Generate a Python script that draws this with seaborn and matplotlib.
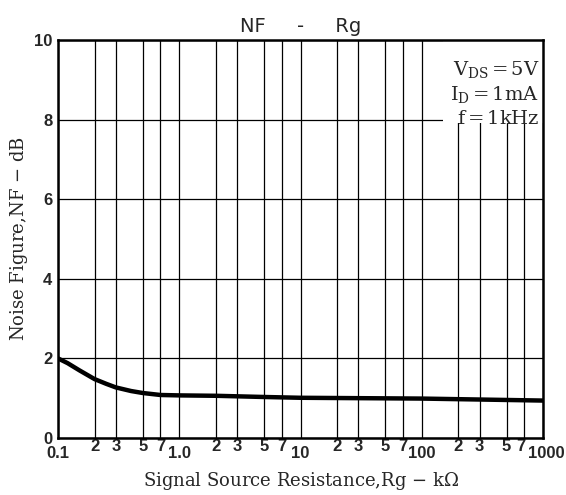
import matplotlib
matplotlib.use('Agg')
import matplotlib.pyplot as plt
import matplotlib.transforms as mtransforms
import seaborn as sns
import pandas as pd
from matplotlib.patches import Rectangle
from matplotlib.font_manager import FontProperties
from matplotlib.ticker import FixedLocator, FixedFormatter

# --- data ---
rg_kohm = [0.1, 0.12, 0.15, 0.2, 0.25, 0.3, 0.4, 0.5, 0.7, 1.0, 2.0, 5.0, 10.0, 100.0, 1000.0]
nf_db = [2.0, 1.88, 1.70, 1.48, 1.36, 1.27, 1.18, 1.13, 1.08, 1.07, 1.06, 1.03, 1.01, 0.99, 0.94]

major_x = [0.1, 1.0, 10.0, 100.0, 1000.0]
major_x_labels = ['0.1', '1.0', '10', '100', '1000']
minor_mults = [2, 3, 5, 7]
y_ticks = [0, 2, 4, 6, 8, 10]

conditions = [r'V$_{\rm DS}$$\,$=$\,$5V', r'I$_{\rm D}$$\,$=$\,$1mA', r'f$\,$=$\,$1kHz']

df = pd.DataFrame({'rg': rg_kohm, 'nf': nf_db})

sns.set_style("white")
plt.rcParams['mathtext.fontset'] = 'dejavuserif'
plt.rcParams['font.family'] = ['DejaVu Sans']

fig = plt.figure(figsize=(5.66, 4.95), dpi=100)
ax = fig.add_axes([0.1025, 0.1152, 0.857, 0.804])

sns.lineplot(data=df, x='rg', y='nf', color='black', linewidth=3.2, ax=ax, zorder=3)

ax.set_xscale('log')
ax.set_xlim(0.1, 1000)
ax.set_ylim(0, 10)

# ticks: major decades and 2,3,5,7 in between
minor_x = [d * m for d in major_x[:-1] for m in minor_mults]
ax.xaxis.set_major_locator(FixedLocator(major_x))
ax.xaxis.set_major_formatter(FixedFormatter(major_x_labels))
ax.xaxis.set_minor_locator(FixedLocator(minor_x))
ax.xaxis.set_minor_formatter(FixedFormatter([str(m) for d in major_x[:-1] for m in minor_mults]))
ax.set_yticks(y_ticks)
ax.set_yticklabels([str(v) for v in y_ticks])

tick_fp = FontProperties(family='Liberation Sans', weight='bold', size=12)
for lab in ax.get_xticklabels(which='both') + ax.get_yticklabels():
    lab.set_fontproperties(tick_fp)
ax.tick_params(axis='x', which='major', length=0, pad=6)
ax.tick_params(axis='x', which='minor', length=0, pad=1)
ax.tick_params(axis='y', length=0, pad=4)


def nudge(lab, dx_px):
    lab.set_transform(lab.get_transform() +
                      mtransforms.ScaledTranslation(dx_px / fig.dpi, 0, fig.dpi_scale_trans))


# "1000" sits a bit to the right and the last "7" a bit left, as in the original
nudge(ax.get_xticklabels()[-1], 3)
nudge(ax.get_xticklabels(minor=True)[-1], -3)

ax.grid(True, which='both', axis='x', color='black', linewidth=0.9)
ax.grid(True, which='major', axis='y', color='black', linewidth=0.9)
ax.set_axisbelow(True)

for sp in ax.spines.values():
    sp.set_color('black')
    sp.set_linewidth(1.8)

# white box for the test conditions
ax.add_patch(Rectangle((150, 7.92), 1000 - 150, 10 - 7.92, facecolor='white',
                       edgecolor='none', zorder=1.5))
for i, txt in enumerate(conditions):
    ax.text(0.992, 0.925 - i * 0.062, txt, transform=ax.transAxes, ha='right', va='center',
            fontsize=14, family='DejaVu Serif', zorder=4)

ax.set_xlabel('Signal Source Resistance,Rg $-$ k$\\Omega$', family='DejaVu Serif',
              fontsize=13, labelpad=6)
ax.set_ylabel('Noise Figure,NF $-$ dB', family='DejaVu Serif', fontsize=13, labelpad=3)
ax.set_title('NF     -     Rg', fontsize=14, pad=6)

fig.savefig('out.png', dpi=100)
